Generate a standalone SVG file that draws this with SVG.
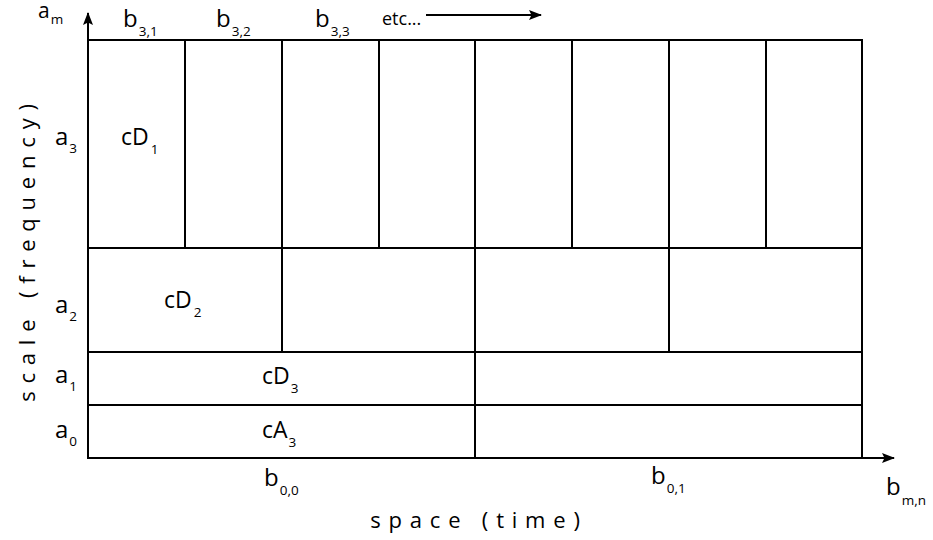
<svg xmlns="http://www.w3.org/2000/svg" width="933" height="540" viewBox="0 0 933 540">
<defs>
<marker id="ah" markerWidth="13" markerHeight="10" refX="12" refY="5" orient="auto" markerUnits="userSpaceOnUse">
<path d="M0,0 L13,5 L0,10 L2.5,5 Z" fill="#000"/>
</marker>
<style>
.ln{stroke:#000;stroke-width:2;fill:none}
.t{font-family:"Open Sans","Liberation Sans",sans-serif;fill:#000}
.big{font-size:24px}
.cd{font-size:23px}
.sub{font-size:13.5px}
.ax{font-size:22px;letter-spacing:7.8px}
</style>
</defs>
<rect width="933" height="540" fill="#fff"/>
<g id="grid">
<rect x="88" y="40" width="774" height="418" class="ln"/>
<path class="ln" d="M88,248H862M88,352H862M88,405H862"/>
<path class="ln" d="M185,40V248M282,40V352M379,40V248M475,40V458M572,40V248M669,40V352M766,40V248"/>
</g>
<g id="connectors">
<line x1="88" y1="458" x2="88" y2="13" class="ln" marker-end="url(#ah)"/>
<line x1="88" y1="458" x2="894" y2="458" class="ln" marker-end="url(#ah)"/>
<line x1="426" y1="15" x2="541" y2="15" class="ln" marker-end="url(#ah)"/>
</g>
<g id="labels">
<text class="t" font-size="21" x="38" y="18">a<tspan class="sub" dy="6" dx="1">m</tspan></text>
<text class="t big" x="123" y="27">b<tspan class="sub" dy="9" dx="1">3,1</tspan></text>
<text class="t big" x="216" y="27">b<tspan class="sub" dy="9" dx="1">3,2</tspan></text>
<text class="t big" x="315" y="27">b<tspan class="sub" dy="9" dx="1">3,3</tspan></text>
<text class="t" x="382" y="25" font-size="18">etc...</text>
<text class="t big" x="55" y="145">a<tspan class="sub" dy="8" dx="1">3</tspan></text>
<text class="t big" x="55" y="313">a<tspan class="sub" dy="8" dx="1">2</tspan></text>
<text class="t big" x="55" y="383">a<tspan class="sub" dy="8" dx="1">1</tspan></text>
<text class="t big" x="55" y="438">a<tspan class="sub" dy="8" dx="1">0</tspan></text>
<text class="t cd" x="121" y="145">cD<tspan class="sub" dy="9" dx="2">1</tspan></text>
<text class="t cd" x="164" y="308">cD<tspan class="sub" dy="9" dx="2">2</tspan></text>
<text class="t cd" x="262" y="384">cD<tspan class="sub" dy="9" dx="1">3</tspan></text>
<text class="t cd" x="262" y="438">cA<tspan class="sub" dy="9" dx="1">3</tspan></text>
<text class="t big" x="264" y="486">b<tspan class="sub" dy="9" dx="1">0,0</tspan></text>
<text class="t big" x="651" y="484">b<tspan class="sub" dy="9" dx="1">0,1</tspan></text>
<text class="t big" x="886" y="495">b<tspan class="sub" dy="10" dx="1">m,n</tspan></text>
<text class="t ax" x="479" y="528" text-anchor="middle">space (time)</text>
<text class="t ax" transform="translate(35,249) rotate(-90)" text-anchor="middle">scale (frequency)</text>
</g>
</svg>
